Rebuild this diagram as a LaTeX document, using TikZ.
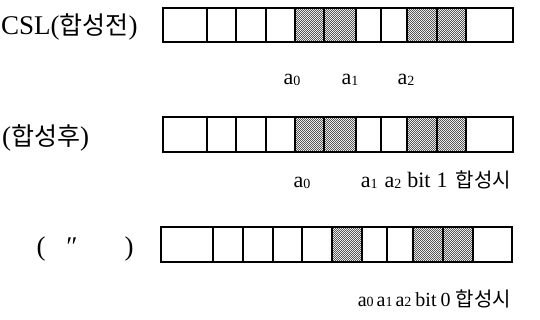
\documentclass[tikz,border=0pt]{standalone}
\usepackage{fontspec}
\setmainfont{Liberation Serif}
\newfontfamily\kr{Noto Sans CJK KR}
\usetikzlibrary{patterns}

% fine stipple for the marked cells
\pgfdeclarepatternformonly{stipple}{\pgfpointorigin}{\pgfpoint{2.4pt}{2.4pt}}{\pgfpoint{2.4pt}{2.4pt}}{%
  \pgfpathrectangle{\pgfpointorigin}{\pgfpoint{1.2pt}{1.2pt}}%
  \pgfpathrectangle{\pgfpoint{1.2pt}{1.2pt}}{\pgfpoint{1.2pt}{1.2pt}}%
  \pgfusepath{fill}}

\newcommand{\ai}[1]{a\raisebox{-0.6pt}{\fontsize{14}{14}\selectfont #1}}
\newcommand{\hgb}[1]{{\kr\fontsize{25}{25}\selectfont #1}}
\newcommand{\hgs}[1]{{\kr\fontsize{20}{20}\selectfont #1}}

\tikzset{
  cell/.style={draw, line width=1.2pt},
  dotcell/.style={cell, pattern=stipple, pattern color=black!65},
  rowlab/.style={font=\fontsize{27}{27}\selectfont, inner sep=0pt, anchor=base west},
  bitlab/.style={font=\fontsize{22}{22}\selectfont, inner sep=0pt, anchor=base},
}

\begin{document}
\begin{tikzpicture}[x=1pt, y=-1pt]
  \useasboundingbox (0,0) rectangle (540,320);
  % cell edges of the three registers
  \def\cellsA{163/207/cell, 207/236/cell, 236/266/cell, 266/295/cell, 295/324/dotcell,
    324/356/dotcell, 356/381/cell, 381/407/cell, 407/437/dotcell, 437/466/dotcell, 466/513/cell}
  \def\cellsB{161/213/cell, 213/243/cell, 243/273/cell, 273/302/cell, 302/332/cell,
    332/362/dotcell, 362/387/cell, 387/413/cell, 413/443/dotcell, 443/473/dotcell, 473/512/cell}

  % before
  \node[rowlab] (pre) at (1,35) {CSL(\hgb{합성전})};
  \foreach \xa/\xb/\s in \cellsA \draw[\s] (\xa,8) rectangle (\xb,42);
  \node[bitlab] (pa0) at (292,85) {\ai{0}};
  \node[bitlab] (pa1) at (350,85) {\ai{1}};
  \node[bitlab] (pa2) at (406,85) {\ai{2}};

  % after, bit 1
  \node[rowlab] (post) at (2,146) {(\hgb{합성후})};
  \foreach \xa/\xb/\s in \cellsA \draw[\s] (\xa,117) rectangle (\xb,152);
  \node[bitlab] (qa0) at (302,188) {\ai{0}};
  \node[bitlab, anchor=base east] (qrest) at (511,188)
    {\ai{1}\hspace{7pt}\ai{2}\hspace{6pt}bit\hspace{6pt}1\hspace{8pt}\hgs{합성시}};

  % after, bit 0
  \node[rowlab, anchor=base] (lp) at (41,255) {(};
  \node[rowlab, anchor=base] (ditto) at (72,255) {″};
  \node[rowlab, anchor=base] (rp) at (129,255) {)};
  \foreach \xa/\xb/\s in \cellsB \draw[\s] (\xa,227) rectangle (\xb,262);
  \node[bitlab, anchor=base east, font=\fontsize{20}{20}\selectfont] (rrest) at (511,306)
    {\ai{0}\hspace{3pt}\ai{1}\hspace{3pt}\ai{2}\hspace{4pt}bit\hspace{4pt}0\hspace{5pt}\hgs{합성시}};
\end{tikzpicture}
\end{document}
